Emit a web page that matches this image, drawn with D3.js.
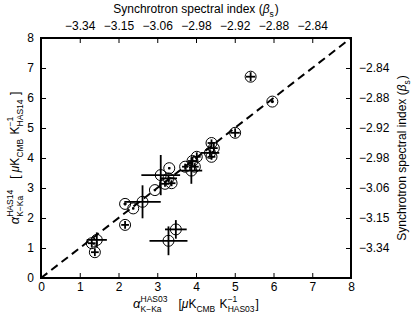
<!DOCTYPE html>
<html lang="en">
<head>
<meta charset="utf-8">
<title>Spectral index comparison</title>
<style>
body { margin: 0; background: #fff; }
svg text { font-family: "Liberation Sans", sans-serif; fill: #000; }
.axis text { font-size: 12px; }
.axis line { stroke: #000; stroke-width: 1; }
.axis path { display: none; }
</style>
</head>
<body>
<div id="chart"></div>
<script src="https://d3js.org/d3.v7.min.js"></script>
<script>
// HAS03 (x) vs HAS14 (y) K-Ka coefficients
var xVals = [5.41, 5.97, 5.01, 4.40, 4.46, 4.36, 4.40, 4.02, 3.91, 3.97, 3.88, 3.72, 3.31, 3.09, 3.29, 3.37, 3.20, 2.94, 2.62, 2.38, 2.17, 2.17, 1.31, 1.44, 1.39, 3.48, 3.29];
var yVals = [6.71, 5.88, 4.84, 4.50, 4.33, 4.17, 4.04, 4.04, 3.90, 3.71, 3.58, 3.71, 3.66, 3.43, 3.32, 3.16, 3.14, 2.93, 2.54, 2.32, 2.47, 1.77, 1.16, 1.27, 0.86, 1.62, 1.24];
var xErr  = [0.12, 0.04, 0.12, 0.10, 0.10, 0.24, 0.10, 0.10, 0.12, 0.10, 0.28, 0.08, 0.03, 0.50, 0.22, 0.10, 0.10, 0.03, 0.47, 0.03, 0.04, 0.10, 0.10, 0.26, 0.10, 0.28, 0.49];
var yErr  = [0.15, 0.05, 0.15, 0.12, 0.15, 0.12, 0.10, 0.15, 0.15, 0.12, 0.44, 0.10, 0.04, 0.67, 0.12, 0.10, 0.10, 0.04, 0.55, 0.04, 0.05, 0.13, 0.13, 0.25, 0.13, 0.31, 0.48];

var axisTicks = [0, 1, 2, 3, 4, 5, 6, 7, 8];
var betaTicks = [1, 2, 3, 4, 5, 6, 7];
var betaLabels = ['\u22123.34', '\u22123.15', '\u22123.06', '\u22122.98', '\u22122.92', '\u22122.88', '\u22122.84'];

var W = 416, H = 321;
var margin = { top: 38, right: 65, bottom: 43, left: 41 };
var width = W - margin.left - margin.right,
    height = H - margin.top - margin.bottom;

var x = d3.scaleLinear().domain([0, 8]).range([0, width]);
var y = d3.scaleLinear().domain([0, 8]).range([height, 0]);

var svg = d3.select('#chart').append('svg')
  .attr('width', W).attr('height', H);
var g = svg.append('g')
  .attr('transform', 'translate(' + margin.left + ',' + margin.top + ')');

g.append('clipPath').attr('id', 'clip')
  .append('rect').attr('width', width).attr('height', height);

// axes, ticks pointing inwards
g.append('g').attr('class', 'axis')
  .attr('transform', 'translate(0,' + height + ')')
  .call(d3.axisBottom(x).tickValues(axisTicks).tickSizeInner(-5).tickSizeOuter(0).tickPadding(4));
g.append('g').attr('class', 'axis')
  .call(d3.axisLeft(y).tickValues(axisTicks).tickSizeInner(-5).tickSizeOuter(0).tickPadding(7));
g.append('g').attr('class', 'axis')
  .call(d3.axisTop(x).tickValues(betaTicks).tickFormat((d, i) => betaLabels[i])
    .tickSizeInner(-5).tickSizeOuter(0).tickPadding(8));
g.append('g').attr('class', 'axis')
  .attr('transform', 'translate(' + width + ',0)')
  .call(d3.axisRight(y).tickValues(betaTicks).tickFormat((d, i) => betaLabels[i])
    .tickSizeInner(-5).tickSizeOuter(0).tickPadding(8));

// hide tick marks at the corners
g.selectAll('.axis .tick').filter(d => d === 0 || d === 8).select('line').remove();

// one-to-one line
g.append('line')
  .attr('clip-path', 'url(#clip)')
  .attr('x1', x(0)).attr('y1', y(0)).attr('x2', x(8)).attr('y2', y(8))
  .attr('stroke', '#000').attr('stroke-width', 2)
  .attr('stroke-dasharray', '8,5');

var idx = d3.range(xVals.length);

// error bars
g.selectAll('.xe').data(idx).enter().append('line')
  .attr('x1', i => x(xVals[i] - xErr[i])).attr('x2', i => x(xVals[i] + xErr[i]))
  .attr('y1', i => y(yVals[i])).attr('y2', i => y(yVals[i]))
  .attr('stroke', '#000').attr('stroke-width', 1.8);
g.selectAll('.ye').data(idx).enter().append('line')
  .attr('x1', i => x(xVals[i])).attr('x2', i => x(xVals[i]))
  .attr('y1', i => y(yVals[i] - yErr[i])).attr('y2', i => y(yVals[i] + yErr[i]))
  .attr('stroke', '#000').attr('stroke-width', 1.8);

// open circles
g.selectAll('circle.pt').data(idx).enter().append('circle')
  .attr('class', 'pt')
  .attr('cx', i => x(xVals[i])).attr('cy', i => y(yVals[i]))
  .attr('r', 5.5)
  .attr('fill', 'none').attr('stroke', '#000').attr('stroke-width', 1);

// frame
g.append('rect').attr('width', width).attr('height', height)
  .attr('fill', 'none').attr('stroke', '#000').attr('stroke-width', 2);

// label with stacked sub/superscripts
function richLabel(parent, pieces, cx, cy, rot) {
  var lab = parent.append('g');
  var inner = lab.append('g');
  var pos = 0;
  pieces.forEach(function(p) {
    if (p.t !== undefined) {
      var t = inner.append('text').attr('x', pos).attr('y', 0)
        .style('font-size', (p.size || 12) + 'px')
        .style('font-style', p.it ? 'italic' : 'normal')
        .attr('xml:space', 'preserve').text(p.t);
      pos += t.node().getComputedTextLength();
    } else {
      var w = 0;
      if (p.sup) {
        var a = inner.append('text').attr('x', pos).attr('y', -6.5)
          .style('font-size', '8.5px').text(p.sup);
        w = Math.max(w, a.node().getComputedTextLength());
      }
      if (p.sub) {
        var b = inner.append('text').attr('x', pos).attr('y', 3.5)
          .style('font-size', '8.5px').text(p.sub);
        w = Math.max(w, b.node().getComputedTextLength());
      }
      pos += w + 1;
    }
  });
  inner.attr('transform', 'translate(' + (-pos / 2) + ',0)');
  lab.attr('transform', 'translate(' + cx + ',' + cy + ') rotate(' + rot + ')');
}

richLabel(svg, [
  { t: '\u03b1', it: true, size: 13 }, { sup: 'HAS03', sub: 'K\u2212Ka' },
  { t: '   [' }, { t: '\u03bc', it: true }, { t: 'K' }, { sub: 'CMB' },
  { t: ' K' }, { sup: '\u22121', sub: 'HAS03' }, { t: ']' }
], margin.left + width / 2, 308, 0);

richLabel(svg, [
  { t: '\u03b1', it: true, size: 13 }, { sup: 'HAS14', sub: 'K\u2212Ka' },
  { t: '   [ ' }, { t: '\u03bc', it: true }, { t: 'K' }, { sub: 'CMB' },
  { t: ' K' }, { sup: '\u22121', sub: 'HAS14' }, { t: ' ]' }
], 19, margin.top + height / 2, -90);

richLabel(svg, [
  { t: 'Synchrotron spectral index (' }, { t: '\u03b2', it: true }, { sub: 's' }, { t: ')' }
], margin.left + width / 2, 13, 0);

richLabel(svg, [
  { t: 'Synchrotron spectral index (' }, { t: '\u03b2', it: true }, { sub: 's' }, { t: ')' }
], 406, margin.top + height / 2, -90);
</script>
</body>
</html>
